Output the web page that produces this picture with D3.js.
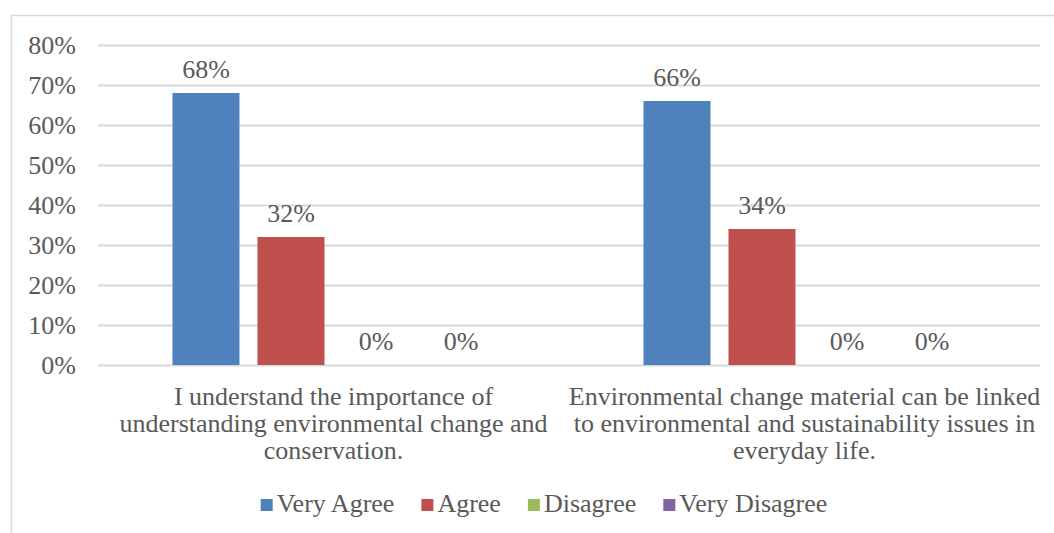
<!DOCTYPE html>
<html>
<head>
<meta charset="utf-8">
<script src="https://cdn.jsdelivr.net/npm/d3@7"></script>
<style>
  body { margin: 0; background: #fff; }
  svg text { font-family: "Liberation Serif", "Times New Roman", serif; fill: #595959; }
</style>
</head>
<body>
<div id="wrapper"></div>
<script>
// survey answers, share of respondents
const categories = [
  "I understand the importance of\nunderstanding environmental change and\nconservation.",
  "Environmental change material can be linked\nto environmental and sustainability issues in\neveryday life."
]
const seriesNames = ["Very Agree", "Agree", "Disagree", "Very Disagree"]
const veryAgree = [0.68, 0.66]
const agree = [0.32, 0.34]
const disagree = [0, 0]
const veryDisagree = [0, 0]
const yTicks = [0, 0.1, 0.2, 0.3, 0.4, 0.5, 0.6, 0.7, 0.8]
const colors = ["#4f81bd", "#c0504d", "#9bbb59", "#8064a2"]

function drawBars() {
  const seriesValues = [veryAgree, agree, disagree, veryDisagree]
  const dataset = categories.map((c, i) => ({
    category: c,
    values: seriesNames.map((s, j) => ({ series: s, value: seriesValues[j][i] }))
  }))

  const fontSize = "26px"

  const dms = {
    width: 1054,
    height: 533,
    margin: { top: 45, right: 14, bottom: 168, left: 98 },
  }
  dms.boundedWidth = dms.width - dms.margin.left - dms.margin.right
  dms.boundedHeight = dms.height - dms.margin.top - dms.margin.bottom

  const wrapper = d3.select("#wrapper")
    .append("svg")
    .attr("width", dms.width)
    .attr("height", dms.height)

  // chart frame
  wrapper.append("rect")
    .attr("x", 11.5)
    .attr("y", 15.5)
    .attr("width", 1060)
    .attr("height", 560)
    .attr("fill", "none")
    .attr("stroke", "#d9d9d9")
    .attr("stroke-width", 1.5)

  const bounds = wrapper.append("g")
    .attr("transform", `translate(${dms.margin.left}, ${dms.margin.top})`)

  const yScale = d3.scaleLinear()
    .domain([0, 0.8])
    .range([dms.boundedHeight, 0])

  const x0 = d3.scaleBand()
    .domain(categories)
    .range([0, dms.boundedWidth])

  const x1 = d3.scaleBand()
    .domain(seriesNames)
    .range([0, x0.bandwidth()])
    .paddingInner(0.212)
    .paddingOuter(0.876)

  // gridlines
  const yAxisGenerator = d3.axisLeft(yScale)
    .tickValues(yTicks)
    .tickFormat(d3.format(".0%"))
    .tickSize(-dms.boundedWidth)
    .tickPadding(22)

  const yAxis = bounds.append("g").call(yAxisGenerator)
  yAxis.select(".domain").remove()
  yAxis.selectAll("line").attr("stroke", "#d9d9d9").attr("stroke-width", 2)
  yAxis.selectAll("text")
    .style("font-size", fontSize)
    .attr("fill", "#595959")

  const groups = bounds.selectAll(".group")
    .data(dataset)
    .join("g")
    .attr("transform", d => `translate(${x0(d.category)}, 0)`)

  groups.selectAll("rect")
    .data(d => d.values)
    .join("rect")
    .attr("x", d => x1(d.series))
    .attr("y", d => yScale(d.value))
    .attr("width", x1.bandwidth())
    .attr("height", d => dms.boundedHeight - yScale(d.value))
    .attr("fill", (d, i) => colors[i])

  groups.selectAll("text.val")
    .data(d => d.values)
    .join("text")
    .attr("class", "val")
    .attr("x", d => x1(d.series) + x1.bandwidth() / 2)
    .attr("y", d => yScale(d.value) - 15)
    .attr("text-anchor", "middle")
    .style("font-size", fontSize)
    .text(d => d3.format(".0%")(d.value))

  // category labels
  const xLabels = bounds.selectAll(".xlab")
    .data(categories)
    .join("text")
    .attr("class", "xlab")
    .attr("text-anchor", "middle")
    .style("font-size", fontSize)
    .attr("transform", d => `translate(${x0(d) + x0.bandwidth() / 2}, ${dms.boundedHeight + 40})`)

  xLabels.selectAll("tspan")
    .data(d => d.split("\n"))
    .join("tspan")
    .attr("x", 0)
    .attr("y", (d, i) => i * 27)
    .text(d => d)

  // legend
  const gap = 27
  const legend = wrapper.append("g")
  const items = legend.selectAll("g")
    .data(seriesNames)
    .join("g")
  items.append("rect")
    .attr("width", 12)
    .attr("height", 12)
    .attr("y", -12)
    .attr("fill", (d, i) => colors[i])
  items.append("text")
    .attr("x", 16)
    .attr("y", 1)
    .style("font-size", fontSize)
    .text(d => d)

  let xPos = 0
  items.each(function () {
    d3.select(this).attr("transform", `translate(${xPos}, 0)`)
    xPos += this.getBBox().width + gap
  })
  const legendWidth = xPos - gap
  legend.attr("transform", `translate(${544 - legendWidth / 2}, 511)`)
}

drawBars()
</script>
</body>
</html>
